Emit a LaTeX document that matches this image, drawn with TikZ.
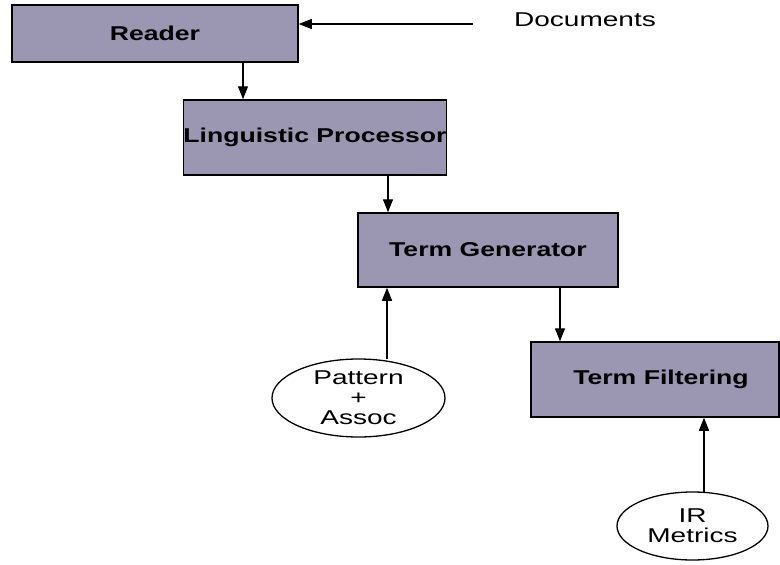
\documentclass[tikz,border=0pt]{standalone}
\usepackage{fontspec}
\setmainfont{Liberation Sans}
\newfontfamily\boxfont[FakeStretch=1.33]{Liberation Sans}
\newfontfamily\ovalfont[FakeStretch=1.4]{Liberation Sans}
\usetikzlibrary{arrows.meta,shapes.geometric}
\definecolor{boxfill}{RGB}{155,150,178}
\tikzset{
  procbox/.style={draw=black, line width=1.5pt, fill=boxfill, inner sep=0pt,
    font=\boxfont\fontsize{20}{20}\selectfont\bfseries},
  oval/.style={draw=black, line width=1.3pt, fill=white, ellipse, inner sep=0pt, align=center,
    font=\ovalfont\fontsize{20}{20}\selectfont},
  arr/.style={line width=1.4pt, -{Triangle[length=13pt,width=10pt]}},
}
\begin{document}
\begin{tikzpicture}[x=1pt,y=-1pt]
\useasboundingbox (0,0) rectangle (780,565);
\node[procbox, minimum width=286pt, minimum height=57pt] (reader) at (155,33.5) {Reader};
\node[procbox, minimum width=260pt, minimum height=75pt] (ling) at (315,137.5) {Linguistic Processor};
\node[procbox, minimum width=260pt, minimum height=74pt] (tg) at (488,250) {Term Generator};
\node[procbox, minimum width=248pt, minimum height=75pt] (tf) at (655,379.5) {\hspace{12pt}Term Filtering};
\node[oval, minimum width=173pt, minimum height=78pt] (pat) at (358.5,398) {Pattern\\+\\Assoc};
\node[oval, minimum width=151pt, minimum height=68pt] (ir) at (692.5,526) {IR\\Metrics};
\node[font=\ovalfont\fontsize{20}{20}\selectfont] (docs) at (585,20) {Documents};
\coordinate (dstart) at (473,24);
\coordinate (x1) at (243,0);
\coordinate (x2) at (388,0);
\coordinate (x3) at (560,0);
\coordinate (x4) at (387,0);
\coordinate (x5) at (704,0);
\draw[arr] (dstart) -- (dstart -| reader.east);
\draw[arr] (reader.south -| x1) -- (ling.north -| x1);
\draw[arr] (ling.south -| x2) -- (tg.north -| x2);
\draw[arr] (tg.south -| x3) -- (tf.north -| x3);
\draw[arr] (pat.north -| x4) ++(0,1) -- (tg.south -| x4);
\draw[arr] (ir.north -| x5) ++(0,1) -- (tf.south -| x5);
\end{tikzpicture}
\end{document}
